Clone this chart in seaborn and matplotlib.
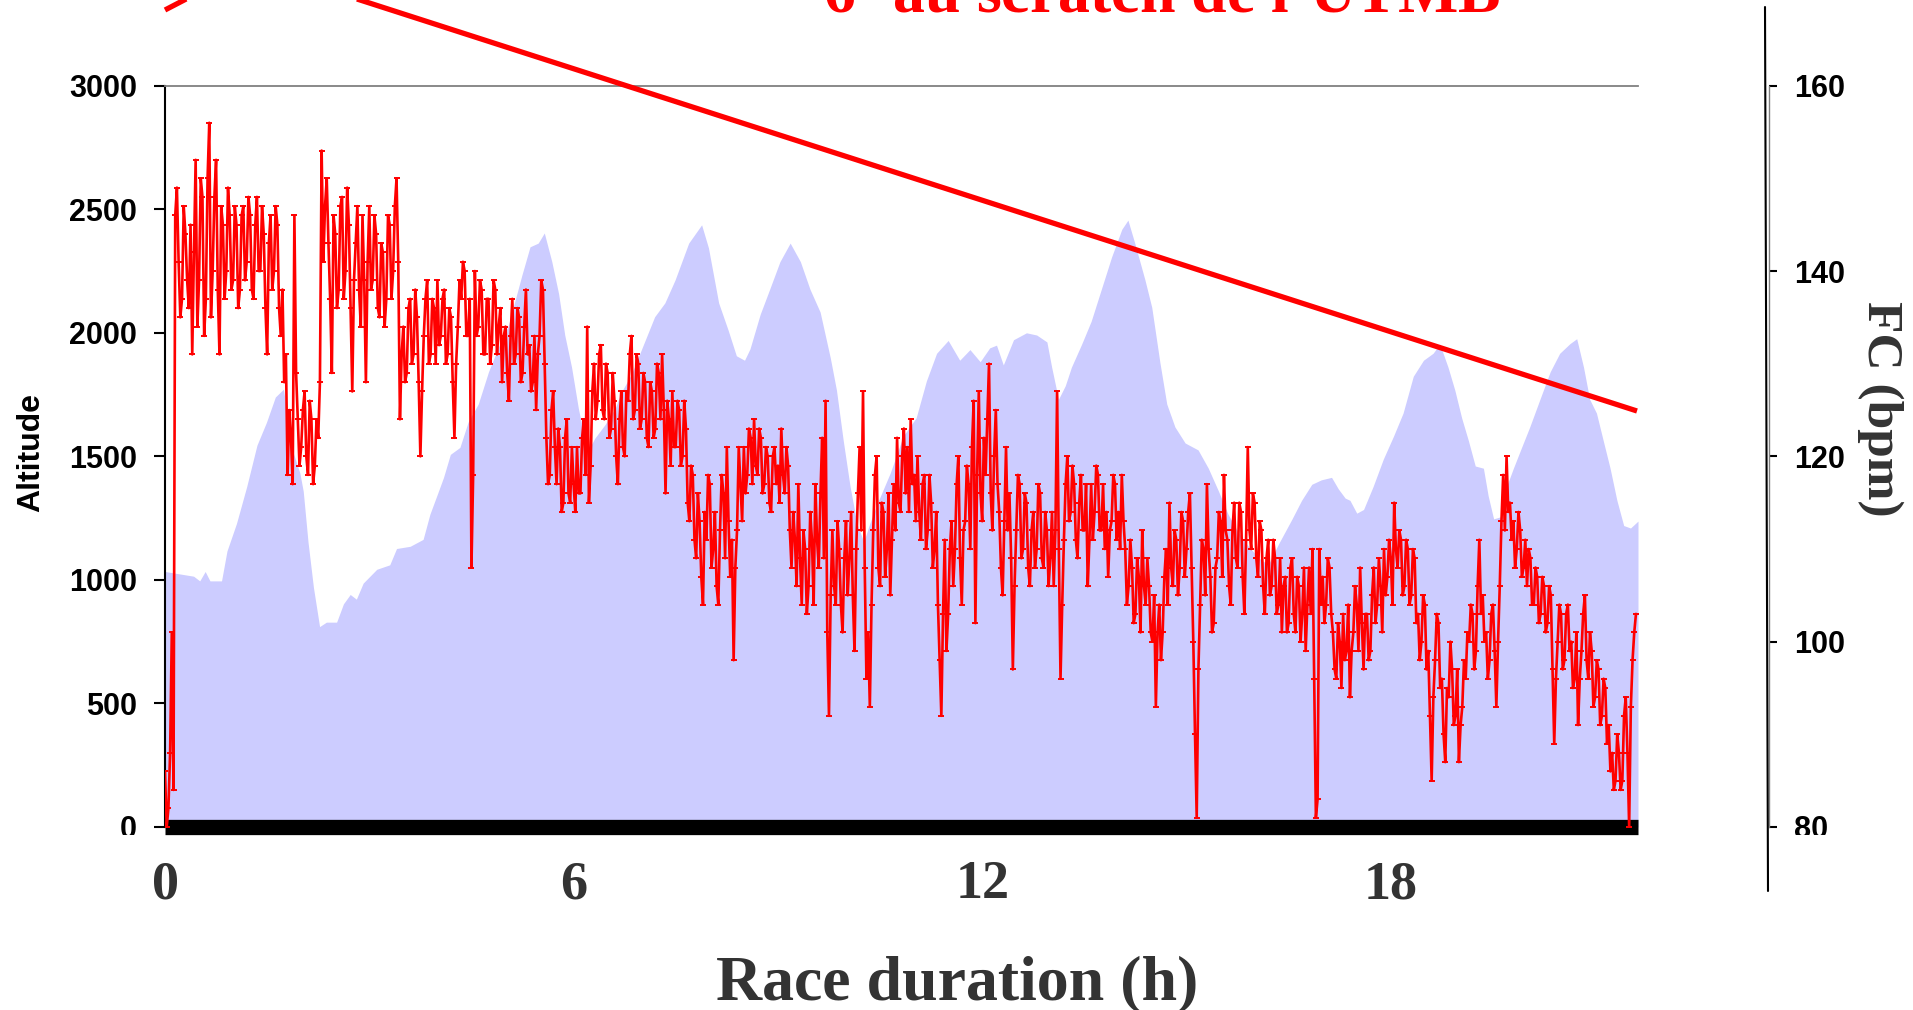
import numpy as np
import pandas as pd
import matplotlib
matplotlib.use("Agg")
import matplotlib.pyplot as plt
from matplotlib.lines import Line2D
from matplotlib.transforms import Bbox, TransformedBbox
import seaborn as sns

# Altitude profile along the course (race hours, metres)
alt_hours = [0.0, 0.42, 0.51, 0.59, 0.66, 0.83, 0.91, 1.05, 1.2, 1.35, 1.49, 1.62, 1.74, 1.79,
             1.88, 1.98, 2.03, 2.1, 2.18, 2.27, 2.37, 2.52, 2.62, 2.72, 2.81, 2.91, 3.11, 3.3,
             3.4, 3.6, 3.79, 3.89, 3.99, 4.09, 4.19, 4.33, 4.45, 4.6, 4.75, 4.9, 5.04, 5.24,
             5.36, 5.48, 5.57, 5.68, 5.78, 5.87, 5.97, 6.07, 6.14, 6.22, 6.31, 6.46, 6.61, 6.7,
             6.85, 7.0, 7.19, 7.34, 7.49, 7.69, 7.88, 7.98, 8.13, 8.27, 8.39, 8.51, 8.59, 8.74,
             8.88, 9.03, 9.18, 9.33, 9.47, 9.62, 9.77, 9.86, 9.96, 10.06, 10.16, 10.26, 10.35,
             10.45, 10.65, 10.84, 11.03, 11.18, 11.33, 11.5, 11.67, 11.82, 11.97, 12.11, 12.21,
             12.31, 12.46, 12.65, 12.8, 12.95, 13.02, 13.12, 13.22, 13.31, 13.46, 13.6, 13.75,
             13.9, 14.05, 14.14, 14.24, 14.39, 14.49, 14.61, 14.71, 14.83, 14.98, 15.17, 15.32,
             15.47, 15.61, 15.76, 15.91, 16.06, 16.2, 16.35, 16.55, 16.69, 16.84, 16.98, 17.13,
             17.23, 17.33, 17.4, 17.5, 17.6, 17.74, 17.89, 18.04, 18.18, 18.33, 18.48, 18.62,
             18.72, 18.84, 18.94, 19.04, 19.14, 19.24, 19.36, 19.43, 19.51, 19.63, 19.7, 19.8,
             19.92, 20.04, 20.19, 20.34, 20.48, 20.63, 20.73, 20.83, 20.92, 21.02, 21.12, 21.22,
             21.32, 21.42, 21.52, 21.63]
alt_m = [1034, 1015, 996, 1034, 996, 996, 1117, 1229, 1378, 1545, 1638, 1740, 1772, 1675,
         1517, 1433, 1359, 1154, 969, 811, 829, 829, 903, 941, 922, 987, 1043, 1061,
         1127, 1136, 1164, 1266, 1340, 1415, 1508, 1536, 1638, 1712, 1842, 1944, 2028, 2233,
         2348, 2363, 2404, 2288, 2158, 1991, 1861, 1694, 1601, 1526, 1573, 1628, 1694, 1759,
         1833, 1935, 2065, 2121, 2214, 2363, 2437, 2344, 2121, 2010, 1907, 1889, 1935, 2075,
         2177, 2288, 2363, 2288, 2177, 2084, 1898, 1768, 1563, 1378, 1229, 1154, 1229,
         1303, 1433, 1582, 1656, 1805, 1917, 1969, 1889, 1932, 1883, 1939, 1950,
         1870, 1972, 2000, 1991, 1963, 1861, 1731, 1786, 1861, 1954, 2047, 2177,
         2307, 2419, 2456, 2363, 2214, 2103, 1879, 1712, 1619, 1554, 1526, 1452,
         1359, 1266, 1192, 1136, 1089, 1061, 1145, 1247, 1322, 1387, 1405, 1415,
         1368, 1331, 1322, 1270, 1285, 1378, 1489, 1582, 1675, 1824, 1889, 1917,
         1954, 1861, 1768, 1656, 1563, 1461, 1452, 1340, 1247, 1257, 1378, 1452,
         1536, 1619, 1731, 1842, 1917, 1956, 1976, 1861, 1731, 1675, 1563, 1452,
         1322, 1220, 1210, 1238]

# Heart rate (bpm), one reading every 0.025 h, one list per race hour
hr_step_h = 0.025
hr_h00 = [86, 80, 82, 88, 101, 84, 146, 149, 141, 135, 137, 147, 144, 139, 136, 145, 131, 142, 152, 134,
          139, 150, 148, 133, 137, 150, 156, 135, 140, 148, 152, 138, 131, 147, 145, 137, 140, 149, 146, 138]
hr_h01 = [139, 147, 145, 136, 138, 146, 147, 139, 141, 148, 146, 138, 137, 145, 148, 140, 140, 147, 144, 136,
          131, 143, 146, 138, 140, 147, 145, 136, 133, 138, 128, 131, 118, 125, 122, 117, 146, 129, 124, 119]
hr_h02 = [121, 125, 127, 120, 118, 126, 124, 117, 119, 124, 122, 128, 153, 141, 147, 150, 143, 137, 129, 146,
          144, 136, 138, 147, 148, 137, 140, 149, 145, 136, 127, 139, 143, 147, 138, 134, 146, 139, 128, 141]
hr_h03 = [147, 138, 139, 146, 144, 136, 135, 143, 142, 134, 137, 146, 145, 137, 140, 147, 150, 141, 124, 131,
          134, 128, 129, 136, 137, 130, 131, 138, 135, 128, 120, 127, 133, 137, 139, 130, 131, 137, 136, 130]
hr_h04 = [139, 132, 133, 137, 138, 130, 131, 136, 135, 128, 122, 130, 134, 139, 137, 141, 140, 133, 133, 137,
          108, 118, 140, 133, 134, 139, 138, 131, 131, 137, 137, 130, 132, 139, 138, 131, 134, 136, 128, 133]
hr_h05 = [134, 129, 126, 133, 137, 130, 131, 136, 135, 128, 129, 134, 138, 131, 132, 127, 128, 133, 125, 131,
          133, 139, 138, 130, 122, 117, 118, 125, 127, 121, 117, 123, 121, 114, 115, 122, 124, 116, 115, 121]
hr_h06 = [117, 114, 121, 116, 116, 122, 124, 118, 134, 115, 119, 127, 130, 124, 126, 131, 132, 125, 124, 130,
          129, 122, 123, 129, 126, 120, 117, 124, 127, 121, 120, 127, 126, 131, 133, 124, 125, 131, 130, 123]
hr_h07 = [124, 129, 128, 122, 121, 128, 127, 122, 123, 130, 129, 124, 131, 125, 116, 126, 124, 119, 127, 121,
          121, 126, 125, 119, 120, 126, 123, 115, 113, 119, 118, 111, 109, 116, 113, 107, 104, 114, 111, 118]
hr_h08 = [117, 108, 110, 114, 106, 104, 112, 118, 116, 109, 121, 113, 107, 111, 98, 108, 112, 121, 117, 113,
          121, 116, 118, 123, 122, 117, 124, 119, 118, 123, 122, 116, 117, 121, 120, 115, 114, 120, 121, 117]
hr_h09 = [119, 115, 123, 118, 116, 121, 119, 112, 108, 114, 111, 106, 117, 109, 104, 112, 110, 103, 106, 114,
          111, 104, 117, 111, 108, 116, 122, 109, 126, 101, 92, 105, 112, 106, 104, 113, 110, 104, 101, 109]
hr_h10 = [113, 105, 109, 114, 105, 99, 110, 116, 121, 112, 127, 108, 96, 101, 93, 104, 112, 118, 120, 108,
          106, 115, 114, 107, 110, 116, 105, 111, 117, 112, 122, 115, 114, 120, 123, 116, 121, 114, 124, 117]
hr_h11 = [118, 113, 120, 114, 111, 117, 118, 110, 112, 118, 115, 108, 110, 114, 104, 98, 92, 103, 111, 99,
          103, 110, 113, 106, 110, 117, 120, 109, 104, 112, 113, 119, 117, 110, 121, 126, 102, 118, 127, 116]
hr_h12 = [113, 122, 118, 124, 130, 116, 112, 120, 125, 117, 114, 108, 105, 113, 121, 112, 116, 109, 97, 106,
          112, 118, 117, 109, 110, 116, 115, 108, 106, 112, 114, 108, 110, 117, 116, 109, 108, 114, 112, 106]
hr_h13 = [109, 114, 106, 112, 127, 110, 96, 104, 111, 117, 120, 113, 114, 119, 117, 111, 109, 115, 118, 112,
          112, 117, 106, 111, 117, 111, 114, 119, 118, 112, 112, 117, 110, 114, 107, 112, 113, 118, 117, 111]
hr_h14 = [114, 110, 118, 113, 110, 104, 106, 111, 108, 102, 103, 109, 107, 101, 112, 106, 104, 109, 106, 101,
          100, 105, 93, 101, 104, 98, 101, 107, 110, 104, 115, 108, 106, 112, 111, 105, 108, 114, 113, 107]
hr_h15 = [110, 114, 116, 108, 100, 90, 81, 97, 104, 111, 110, 105, 117, 110, 107, 101, 102, 108, 109, 114,
          113, 107, 118, 112, 111, 106, 104, 112, 115, 109, 108, 115, 114, 107, 103, 111, 121, 112, 110, 116]
hr_h16 = [115, 109, 107, 113, 112, 106, 103, 109, 111, 105, 106, 111, 109, 103, 104, 109, 101, 106, 107, 101,
          102, 108, 109, 103, 101, 107, 106, 100, 103, 108, 99, 104, 108, 103, 110, 96, 81, 83, 110, 104]
hr_h17 = [107, 102, 104, 109, 108, 103, 101, 97, 96, 102, 100, 95, 103, 98, 99, 104, 94, 99, 101, 106,
          104, 99, 108, 102, 97, 103, 103, 98, 99, 105, 108, 102, 104, 109, 106, 101, 110, 105, 107, 111]
hr_h18 = [109, 104, 115, 110, 108, 112, 111, 105, 106, 111, 110, 104, 105, 110, 109, 102, 103, 98, 100, 105,
          104, 97, 99, 92, 85, 94, 98, 103, 102, 95, 96, 90, 87, 95, 94, 100, 97, 91, 92, 97]
hr_h19 = [87, 91, 93, 98, 96, 101, 100, 104, 103, 97, 99, 106, 111, 103, 105, 100, 101, 96, 98, 103,
          104, 99, 93, 100, 106, 113, 118, 112, 120, 114, 115, 111, 113, 108, 110, 114, 112, 107, 108, 111]
hr_h20 = [106, 110, 109, 104, 104, 108, 107, 102, 103, 107, 106, 101, 102, 106, 105, 97, 89, 96, 100, 104,
          103, 97, 98, 103, 104, 99, 100, 95, 96, 101, 91, 96, 99, 103, 105, 98, 96, 101, 99, 93]
hr_h21 = [94, 98, 97, 91, 92, 96, 95, 89, 91, 86, 88, 84, 85, 90, 88, 84, 85, 92, 94, 88,
          80, 93, 98, 101, 103]

hr_by_hour = [hr_h00, hr_h01, hr_h02, hr_h03, hr_h04, hr_h05, hr_h06, hr_h07, hr_h08, hr_h09, hr_h10,
              hr_h11, hr_h12, hr_h13, hr_h14, hr_h15, hr_h16, hr_h17, hr_h18, hr_h19, hr_h20, hr_h21]
hr_hours = np.concatenate([h + np.arange(len(vals)) * hr_step_h for h, vals in enumerate(hr_by_hour)])
hr_bpm = np.concatenate([np.asarray(vals, dtype=float) for vals in hr_by_hour])

x_ticks = [0, 6, 12, 18]
x_tick_labels = ["0", "6", "12", "18"]
alt_ticks = [0, 500, 1000, 1500, 2000, 2500, 3000]
hr_ticks = [80, 100, 120, 140, 160]

title_text = "6$^{\\mathrm{e}}$ au scratch de l\u2019UTMB"
x_title = "Race duration (h)"
alt_title = "Altitude"
hr_title = "FC (bpm)"

sns.set_style("white")
plt.rcParams["font.family"] = ["Liberation Sans", "DejaVu Sans"]
plt.rcParams["mathtext.fontset"] = "custom"
plt.rcParams["mathtext.rm"] = "Liberation Serif:bold"
plt.rcParams["mathtext.it"] = "Liberation Serif:bold"
plt.rcParams["mathtext.bf"] = "Liberation Serif:bold"

W, H = 1913, 1010
fig = plt.figure(figsize=(W / 100, H / 100), dpi=100)


def fx(px):
    return px / W


def fy(py):
    return 1 - py / H


ax = fig.add_axes([fx(165), fy(827), fx(1638) - fx(165), fy(85.7) - fy(827)])
ax.fill_between(alt_hours, alt_m, 0, color="#CCCCFF", lw=0, zorder=1)
ax.set_xlim(0, 21.63)
ax.set_ylim(0, 3000)

# heart-rate line on its own scale, with a short dash at every reading
ax2 = ax.twinx()
hr_df = pd.DataFrame({"hours": hr_hours, "bpm": hr_bpm})
sns.lineplot(data=hr_df, x="hours", y="bpm", ax=ax2, color="#FF0000", lw=1.9,
             marker="_", markersize=4, markeredgewidth=1.4, markeredgecolor="#FF0000")
ax2.set_ylim(80, 160)
ax2.set_xlim(0, 21.63)
ax2.set_xlabel("")
ax2.set_ylabel("")
ax.set_xlabel("")
ax.set_ylabel("")

# left axis styling
ax.spines["right"].set_visible(False)
ax.spines["top"].set_color("#808080")
ax.spines["top"].set_linewidth(1.3)
ax.spines["left"].set_color("black")
ax.spines["left"].set_linewidth(1.5)
ax.spines["bottom"].set_color("black")
ax.spines["bottom"].set_linewidth(11)
ax.spines["bottom"].set_capstyle("butt")

ax.set_yticks(alt_ticks, labels=[str(v) for v in alt_ticks], fontsize=22, fontweight="bold",
              color="black")
ax.tick_params(axis="y", left=True, direction="out", length=8, width=1.5, pad=12,
               color="black")
ax.set_xticks(x_ticks, labels=x_tick_labels, fontsize=39, fontweight="bold",
              family="Liberation Serif", color="#333333")
ax.tick_params(axis="x", bottom=True, length=0, pad=24)

# right axis styling
for side in ["top", "bottom", "left"]:
    ax2.spines[side].set_visible(False)
ax2.spines["right"].set_position(("outward", 94.3))
ax2.spines["right"].set_bounds(80, 160)
ax2.spines["right"].set_color("#808080")
ax2.spines["right"].set_linewidth(1.0)
ax2.set_yticks(hr_ticks, labels=[str(v) for v in hr_ticks], fontsize=22, fontweight="bold",
               color="black")
ax2.tick_params(axis="y", right=True, direction="out", length=6, width=1.5, pad=12,
                color="black")

# lowest labels are cut at the same height
clip = TransformedBbox(Bbox.from_extents(0, fy(835), 1, 1), fig.transFigure)
for lab in [ax.yaxis.get_major_ticks()[0].label1, ax2.yaxis.get_major_ticks()[0].label2]:
    lab.set_clip_box(clip)
    lab.set_clip_on(True)

# axis titles
fig.text(fx(31), fy(453), alt_title, rotation=90, ha="center", va="center", fontsize=23,
         fontweight="bold", color="black")
fig.text(fx(1880), fy(409), hr_title, rotation=-90, ha="center", va="center", fontsize=37,
         fontweight="bold", family="Liberation Serif", color="#333333")
fig.text(fx(957), fy(999), x_title, ha="center", va="baseline", fontsize=46,
         fontweight="bold", family="Liberation Serif", color="#333333")
fig.text(fx(1162), fy(12), title_text, ha="center", va="baseline", fontsize=46,
         fontweight="bold", family="Liberation Serif", color="#FF0000")

# annotation strokes and the long right-hand rule
fig.add_artist(Line2D([fx(329), fx(1637)], [fy(-10), fy(411)], color="#FF0000", lw=3.8,
                      solid_capstyle="butt", transform=fig.transFigure))
fig.add_artist(Line2D([fx(165), fx(190)], [fy(10), fy(-3)], color="#FF0000", lw=3.8,
                      solid_capstyle="butt", transform=fig.transFigure))
fig.add_artist(Line2D([fx(1765), fx(1768)], [fy(7), fy(891)], color="black", lw=1.5,
                      transform=fig.transFigure))

fig.savefig("out.png", dpi=100)
